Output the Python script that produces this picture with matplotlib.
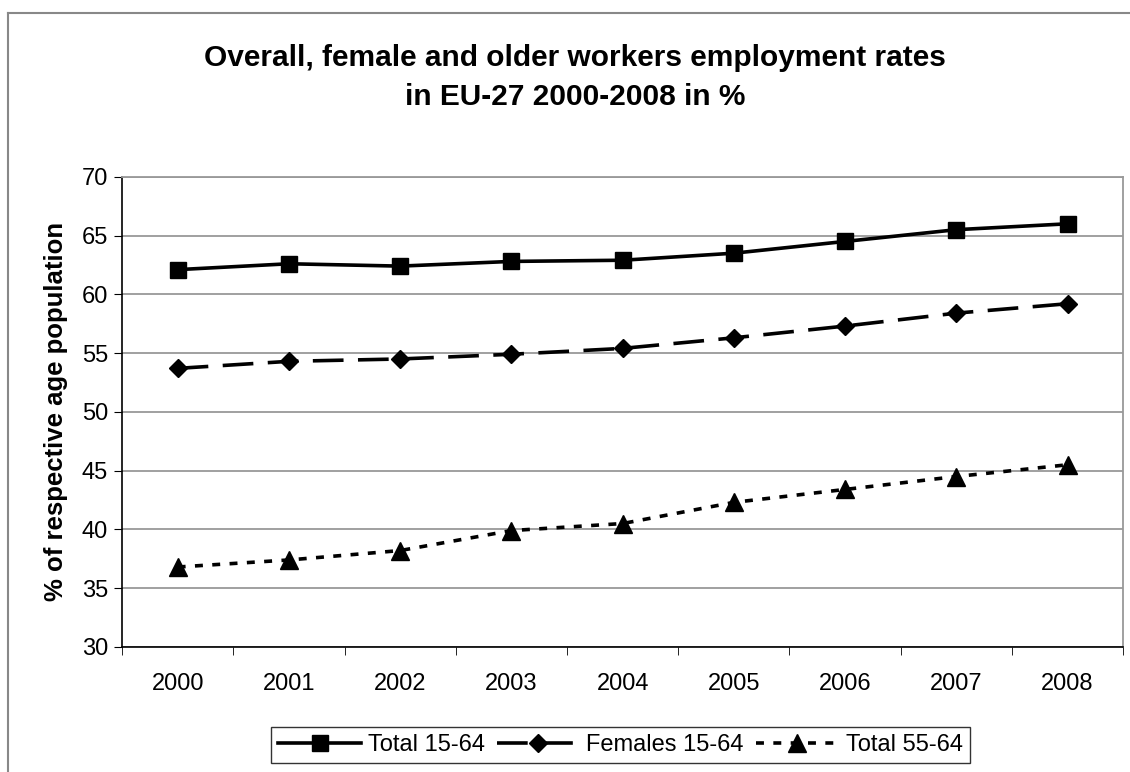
import matplotlib
matplotlib.use("Agg")
import matplotlib.pyplot as plt
from matplotlib.lines import Line2D
import numpy as np

plt.rcParams["font.family"] = ["Liberation Sans", "DejaVu Sans"]

years = ["2000", "2001", "2002", "2003", "2004", "2005", "2006", "2007", "2008"]
total_15_64 = [62.1, 62.6, 62.4, 62.8, 62.9, 63.5, 64.5, 65.5, 66.0]
females_15_64 = [53.7, 54.3, 54.5, 54.9, 55.4, 56.3, 57.3, 58.4, 59.2]
total_55_64 = [36.8, 37.4, 38.2, 39.9, 40.5, 42.3, 43.4, 44.5, 45.5]

fig = plt.figure(figsize=(11.3, 7.72), dpi=100)
ax = fig.add_axes([0.108, 0.162, 0.886, 0.609])

x = np.arange(len(years))
ax.plot(x, total_15_64, color="black", lw=2.6, marker="s", ms=11.5,
        label="Total 15-64", zorder=3)
ax.plot(x, females_15_64, color="black", lw=2.6, marker="D", ms=9.5,
        dashes=(8.5, 4), label="Females 15-64", zorder=3)
ax.plot(x, total_55_64, color="black", lw=2.6, marker="^", ms=12.5,
        dashes=(2.2, 2.6), label="Total 55-64", zorder=3)

ax.set_xlim(-0.5, len(years) - 0.5)
ax.set_ylim(30, 70)
ax.set_yticks(range(30, 71, 5))
ax.set_xticks(x)
ax.set_xticklabels(years)
ax.set_xticks(np.arange(-0.5, len(years)), minor=True)
ax.tick_params(axis="x", which="major", length=0, pad=19, labelsize=17)
ax.tick_params(axis="x", which="minor", length=6, direction="out", color="black")
ax.tick_params(axis="y", length=6, direction="out", labelsize=17, pad=4)
ax.yaxis.grid(True, color="#999999", lw=1.3)
ax.set_axisbelow(True)
for s in ("top", "right"):
    ax.spines[s].set_color("#999999")
    ax.spines[s].set_linewidth(1.3)
ax.spines["left"].set_linewidth(1.2)
ax.spines["bottom"].set_linewidth(1.2)

ax.set_ylabel("% of respective age population", fontsize=18.5, fontweight="bold", labelpad=10)
fig.text(0.509, 0.9, "Overall, female and older workers employment rates\nin EU-27 2000-2008 in %",
         ha="center", va="center", fontsize=21.5, fontweight="bold", linespacing=1.5)

leg = fig.legend(loc="center", bbox_to_anchor=(0.549, 0.035), ncol=3, fontsize=17,
                 frameon=True, fancybox=False, edgecolor="black", handlelength=3.5,
                 handletextpad=0.3, columnspacing=0.5, borderpad=0.3)
leg.get_frame().set_linewidth(1.0)

# outer chart frame (left and top edges visible)
fig.add_artist(Line2D([0.0075, 0.0075], [0.0, 0.983], color="#888888", lw=1.5, transform=fig.transFigure))
fig.add_artist(Line2D([0.0075, 1.0], [0.983, 0.983], color="#888888", lw=1.5, transform=fig.transFigure))

fig.savefig("out.png", dpi=100)
